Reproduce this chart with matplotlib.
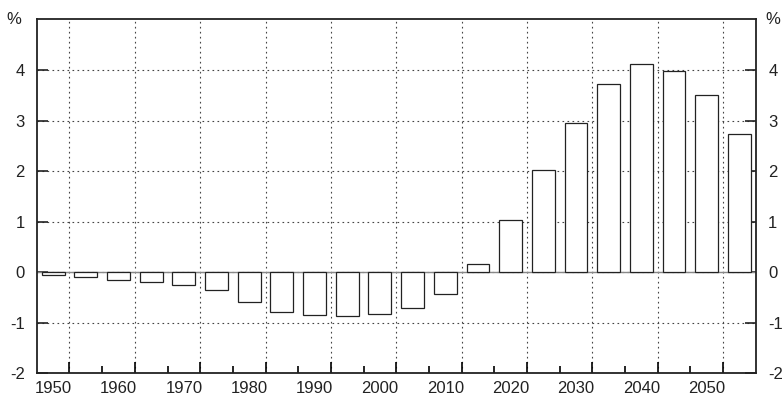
import matplotlib
matplotlib.use("Agg")
import matplotlib.pyplot as plt
import numpy as np

plt.rcParams['font.family'] = ['Liberation Sans', 'DejaVu Sans']

# Five-year periods and the percentage change for each
years = [1950, 1955, 1960, 1965, 1970, 1975, 1980, 1985, 1990, 1995, 2000,
         2005, 2010, 2015, 2020, 2025, 2030, 2035, 2040, 2045, 2050, 2055]
values = [-0.06, -0.10, -0.15, -0.20, -0.26, -0.36, -0.58, -0.79, -0.85, -0.87, -0.83,
          -0.71, -0.44, 0.16, 1.04, 2.03, 2.95, 3.72, 4.12, 3.99, 3.50, 2.73]
y_ticks = [-2, -1, 0, 1, 2, 3, 4]
decade_labels = [1950, 1960, 1970, 1980, 1990, 2000, 2010, 2020, 2030, 2040, 2050]

fig = plt.figure(figsize=(7.84, 3.97), dpi=100)
ax = fig.add_axes([0.0478, 0.0597, 0.9161, 0.8912])

ax.bar(years, values, width=3.5, color='white', edgecolor='#222222',
       linewidth=0.9, zorder=3)
ax.axhline(0, color='#888888', linewidth=1.0, zorder=2)

ax.set_xlim(1947.6, 2057.5)
ax.set_ylim(-2, 5)

# Grid lines fall between decades; labels sit under the decade bars
ax.set_xticks(np.arange(1952.5, 2055, 10))
ax.set_xticks(np.arange(1957.5, 2055, 10), minor=True)
ax.set_xticklabels([])
ax.tick_params(axis='x', which='major', direction='in', length=8, width=1.2,
               top=False, bottom=True)
ax.tick_params(axis='x', which='minor', direction='in', length=5, width=1.2,
               top=False, bottom=True)

ax.set_yticks(y_ticks)
ax.set_yticklabels([str(v) for v in y_ticks])
ax.tick_params(axis='y', which='major', direction='in', length=8, width=1.2,
               left=True, right=True, labelleft=True, labelright=True,
               labelsize=12, pad=9, colors='#222222')

ax.grid(True, which='major', linestyle=(0, (1.5, 3)), color='#444444',
        linewidth=0.8, zorder=1)

sec = ax.secondary_xaxis('bottom')
sec.set_xticks(decade_labels)
sec.set_xticklabels([str(y) for y in decade_labels])
sec.tick_params(length=0, labelsize=12, pad=5.5, colors='#222222')
sec.spines['bottom'].set_visible(False)

for s in ax.spines.values():
    s.set_linewidth(1.3)
    s.set_color('#222222')

ax.text(-0.022, 1.0, '%', transform=ax.transAxes, ha='right', va='center',
        fontsize=12, color='#222222')
ax.text(1.013, 1.0, '%', transform=ax.transAxes, ha='left', va='center',
        fontsize=12, color='#222222')

fig.savefig('out.png', dpi=100)
